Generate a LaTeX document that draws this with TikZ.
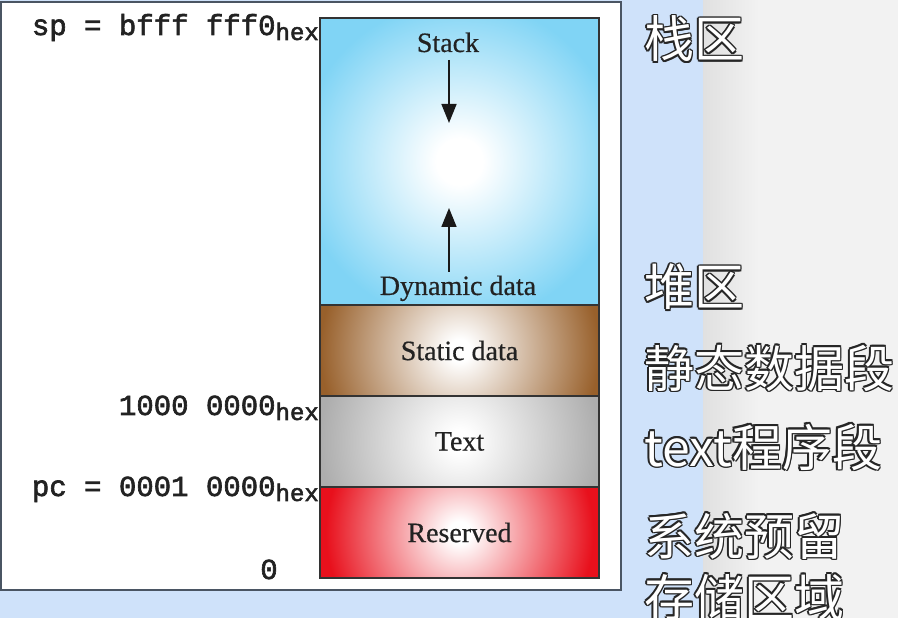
\documentclass[tikz,border=0pt]{standalone}
\usepackage{fontspec}
\setmainfont[FakeBold=0.5]{Liberation Serif}
\newfontfamily\monof[FakeBold=2.2]{Liberation Mono}
\newfontfamily\cjk{Noto Sans CJK SC}
\usetikzlibrary{arrows.meta}
\definecolor{bgblue}{HTML}{CFE2FA}
\definecolor{panelline}{HTML}{4A5563}
\definecolor{stackblue}{HTML}{80D4F5}
\definecolor{brownc}{HTML}{98602B}
\definecolor{greyc}{HTML}{ADADAD}
\definecolor{redc}{HTML}{E8101C}
\definecolor{inkc}{HTML}{222222}
\pgfdeclareradialshading{stacksh}{\pgfpoint{0bp}{0bp}}{color(0bp)=(white); color(4bp)=(white); color(28bp)=(stackblue); color(50bp)=(stackblue)}
\pgfdeclareradialshading{brownsh}{\pgfpoint{0bp}{0bp}}{color(0bp)=(white); color(2bp)=(white); color(25bp)=(brownc); color(50bp)=(brownc)}
\pgfdeclareradialshading{greysh}{\pgfpoint{0bp}{0bp}}{color(0bp)=(white); color(2bp)=(white); color(25bp)=(greyc); color(50bp)=(greyc)}
\pgfdeclareradialshading{redsh}{\pgfpoint{0bp}{0bp}}{color(0bp)=(white); color(2bp)=(white); color(24bp)=(redc); color(50bp)=(redc)}
\newcommand\hexsub{\raisebox{-5pt}{\fontsize{24}{24}\selectfont hex}}
\newcommand\cnlabel[3]{%
  \foreach \a in {0,45,...,315} {\node[cn, text=black!85, shift={(\a:1.7pt)}] (#2s\a) at (#1) {#3};}
  \node[cn, text=white] (#2) at (#1) {#3};
}
\tikzset{
  x=1pt, y=1pt,
  region/.style={draw=black!80, line width=1.2pt, minimum width=279pt, inner sep=0pt,
    font=\fontsize{28}{30}\selectfont, text=inkc},
  serifl/.style={font=\fontsize{28}{30}\selectfont, text=inkc, inner sep=0pt, anchor=base},
  monol/.style={font=\monof\fontsize{29}{30}\selectfont, text=inkc, inner sep=0pt, anchor=base east},
  cn/.style={font=\cjk\fontsize{50}{50}\selectfont, inner sep=0pt, anchor=west},
  growarrow/.style={line width=1.6pt, draw=black!90, -{Triangle[length=19pt,width=15pt]}}
}
\begin{document}
\begin{tikzpicture}
\useasboundingbox (0,0) rectangle (898,618);
% background
\fill[bgblue] (0,0) rectangle (703,618);
\shade[left color=black!12, right color=black!5] (703,0) rectangle (760,618);
\fill[black!5] (760,0) rectangle (898,618);
% panel
\draw[line width=2pt, draw=panelline, fill=white] (1,616) rectangle (621,28);
% shadings
\begin{scope}
  \clip (320,313) rectangle (599,600);
  \shade[shading=stacksh] (316,313) rectangle (603,600);
\end{scope}
\begin{scope}
  \clip (320,222) rectangle (599,313);
  \shade[shading=brownsh] (320,128) rectangle (599,407);
\end{scope}
\begin{scope}
  \clip (320,131) rectangle (599,222);
  \shade[shading=greysh] (320,37) rectangle (599,316);
\end{scope}
\begin{scope}
  \clip (320,40) rectangle (599,131);
  \shade[shading=redsh] (320,-54) rectangle (599,225);
\end{scope}
% regions
\node[region, minimum height=287pt] (stackreg) at (459.5,456.5) {};
\node[region, minimum height=91pt] (staticreg) at (459.5,267.5) {Static data};
\node[region, minimum height=91pt] (textreg) at (459.5,176.5) {Text};
\node[region, minimum height=91pt] (resreg) at (459.5,85.5) {Reserved};
% stack labels and arrows
\node[serifl] (stacklbl) at (448,566) {Stack};
\node[serifl] (dynlbl) at (458,323) {Dynamic data};
\coordinate (d1) at (449,558);
\coordinate (d2) at (449,495);
\coordinate (u1) at (449,346);
\coordinate (u2) at (449,410);
\draw[growarrow] (d1) -- (d2);
\draw[growarrow] (u1) -- (u2);
% address labels
\node[monol] (splbl) at (319,583) {sp = bfff fff0\hexsub};
\node[monol] (textlbl) at (319,203) {1000 0000\hexsub};
\node[monol] (pclbl) at (319,122) {pc = 0001 0000\hexsub};
\node[monol, anchor=base] (zerolbl) at (269,39) {0};
% chinese annotations
\cnlabel{644,579}{cnstack}{栈区}
\cnlabel{644,331}{cnheap}{堆区}
\cnlabel{644,250}{cnstatic}{静态数据段}
\cnlabel{644,171}{cntext}{text程序段}
\cnlabel{644,82}{cnres}{系统预留}
\cnlabel{644,21}{cnstore}{存储区域}
\end{tikzpicture}
\end{document}
